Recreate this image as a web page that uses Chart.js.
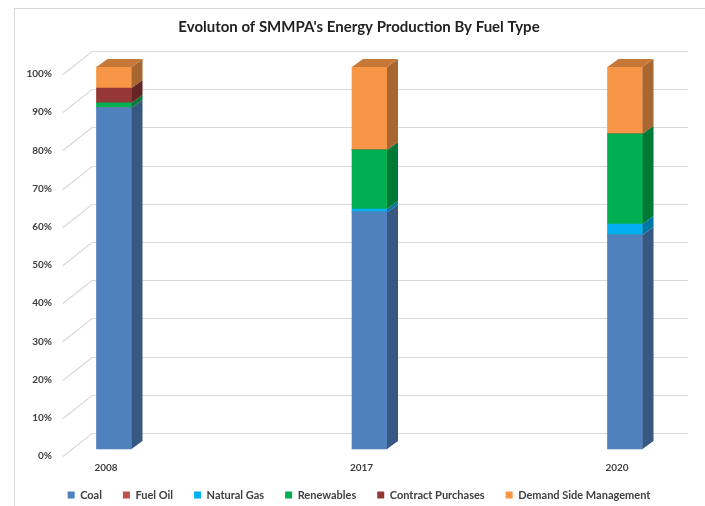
<!DOCTYPE html>
<html><head><meta charset="utf-8">
<script src="https://cdn.jsdelivr.net/npm/chart.js@4"></script>
<style>html,body{margin:0;padding:0;background:#fff}canvas{display:block}</style>
</head><body>
<canvas id="c" width="705" height="506"></canvas>
<script>
const categories = ['2008', '2017', '2020'];
const seriesNames = ['Coal', 'Fuel Oil', 'Natural Gas', 'Renewables', 'Contract Purchases', 'Demand Side Management'];
const coal = [89.3, 62.0, 56.0];
const fuelOil = [0, 0, 0];
const naturalGas = [0, 0.8, 2.9];
const renewables = [1.3, 15.5, 23.6];
const contractPurchases = [3.9, 0, 0];
const demandSideManagement = [5.5, 21.7, 17.5];
const yTickValues = [0, 10, 20, 30, 40, 50, 60, 70, 80, 90, 100];

const seriesData = [coal, fuelOil, naturalGas, renewables, contractPurchases, demandSideManagement];
const colors = ['#4F81BD', '#C0504D', '#00B0F0', '#00B050', '#953735', '#F79646'];
const DX = 11, DY = 8;

function shade(hex, f) {
  const n = parseInt(hex.slice(1), 16);
  const r = Math.round(((n >> 16) & 255) * f), g = Math.round(((n >> 8) & 255) * f), b = Math.round((n & 255) * f);
  return 'rgb(' + r + ',' + g + ',' + b + ')';
}
function poly(ctx, pts) {
  ctx.beginPath();
  ctx.moveTo(pts[0][0], pts[0][1]);
  for (let k = 1; k < pts.length; k++) ctx.lineTo(pts[k][0], pts[k][1]);
  ctx.closePath();
  ctx.fill();
}

const threeD = {
  id: 'threeD',
  beforeDraw(chart) {
    const ctx = chart.ctx;
    if (chart.scales.x) chart.scales.x._computeLabelArea = () => null;
    ctx.save();
    ctx.fillStyle = '#fff';
    ctx.fillRect(0, 0, chart.width, chart.height);
    ctx.strokeStyle = '#d9d9d9';
    ctx.lineWidth = 1;
    ctx.strokeRect(14.5, 8.5, chart.width, chart.height);
    ctx.restore();
  },
  beforeDatasetsDraw(chart) {
    const { ctx, chartArea } = chart;
    const y = chart.scales.y;
    ctx.save();
    ctx.strokeStyle = '#d9d9d9';
    ctx.lineWidth = 1.2;
    yTickValues.forEach(v => {
      const yf = Math.round(y.getPixelForValue(v));
      const fx = chartArea.left - 51, fy = yf + 7.5;
      const bx = chartArea.left - 22, by = yf - 15.5;
      ctx.beginPath();
      ctx.moveTo(fx, fy);
      ctx.lineTo(bx, by);
      ctx.lineTo(chartArea.right + 63, by);
      ctx.stroke();
    });
    ctx.restore();
  },
  afterDatasetsDraw(chart) {
    const ctx = chart.ctx;
    const n = chart.data.labels.length;
    const topIdx = new Array(n).fill(-1);
    chart.data.datasets.forEach((ds, i) => ds.data.forEach((v, j) => { if (v > 0) topIdx[j] = i; }));
    ctx.save();
    chart.data.datasets.forEach((ds, i) => {
      const meta = chart.getDatasetMeta(i);
      meta.data.forEach((bar, j) => {
        if (!(ds.data[j] > 0)) return;
        const p = bar.getProps(['x', 'y', 'base', 'width'], true);
        const l = p.x - p.width / 2, r = p.x + p.width / 2;
        ctx.fillStyle = shade(colors[i], 0.68);
        poly(ctx, [[r, p.y], [r + DX, p.y - DY], [r + DX, p.base - DY], [r, p.base]]);
        if (topIdx[j] === i) {
          ctx.fillStyle = shade(colors[i], 0.8);
          poly(ctx, [[l, p.y], [l + DX, p.y - DY], [r + DX, p.y - DY], [r, p.y]]);
        }
      });
    });
    ctx.restore();
  }
};

const FONT = 'Lato';
const TXT = '#404040';

new Chart(document.getElementById('c'), {
  type: 'bar',
  data: {
    labels: categories,
    datasets: seriesNames.map((name, i) => ({
      label: name,
      data: seriesData[i],
      backgroundColor: colors[i],
      borderWidth: 0,
      barThickness: 35,
      clip: false
    }))
  },
  options: {
    responsive: false,
    animation: false,
    devicePixelRatio: 1,
    layout: { padding: { left: 13, top: 0, right: 0, bottom: -4.5 } },
    plugins: {
      title: {
        display: true,
        text: "Evoluton of SMMPA's Energy Production By Fuel Type",
        color: '#222',
        font: { family: FONT, size: 15, weight: 'bold' },
        padding: { top: 18.5, bottom: 30.5 }
      },
      legend: {
        position: 'bottom',
        labels: {
          color: TXT,
          font: { family: FONT, size: 11, weight: 'bold' },
          boxWidth: 7,
          boxHeight: 7,
          padding: 21
        }
      },
      tooltip: { enabled: false }
    },
    scales: {
      x: {
        stacked: true,
        offset: false,
        grid: { display: false, drawTicks: false },
        border: { display: false },
        ticks: { color: TXT, font: { family: FONT, size: 10, weight: 'bold' }, padding: 13, labelOffset: -8, maxRotation: 0 },
        afterFit(s) { s.height = 19.5; }
      },
      y: {
        stacked: true,
        min: 0,
        max: 100,
        weight: 10,
        grid: { display: false, drawTicks: false },
        border: { display: false },
        ticks: {
          stepSize: 10,
          color: TXT,
          font: { family: FONT, size: 10, weight: 'bold' },
          padding: 3,
          labelOffset: 7,
          callback: v => v + '%'
        },
        afterFit(s) { s.width = 42; }
      },
      ySpacer: {
        type: 'linear',
        position: 'left',
        weight: 0,
        display: true,
        grid: { display: false, drawTicks: false },
        border: { display: false },
        ticks: { display: false, padding: 0 },
        afterFit(s) { s.width = 59; }
      },
      y2: {
        type: 'linear',
        position: 'right',
        display: true,
        grid: { display: false, drawTicks: false },
        border: { display: false },
        ticks: { display: false, padding: 0 },
        afterFit(s) { s.width = 80; }
      }
    }
  },
  plugins: [threeD]
});
</script>
</body></html>
